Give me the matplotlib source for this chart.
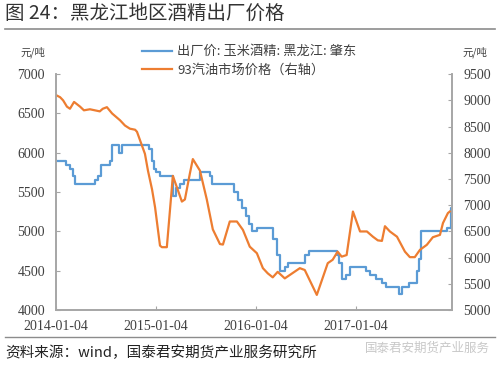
import numpy as np
import pandas as pd
import matplotlib
matplotlib.use("Agg")
import matplotlib.pyplot as plt

plt.rcParams['font.family'] = ['Noto Sans CJK SC', 'DejaVu Sans']

# 出厂价: 玉米酒精: 黑龙江: 肇东 (left axis, step changes)
alc_dates = ['2014-01-04', '2014-02-08', '2014-02-24', '2014-03-07', '2014-03-14',
             '2014-05-26', '2014-06-06', '2014-06-17', '2014-07-20', '2014-07-28',
             '2014-08-22', '2014-09-02', '2014-12-10', '2014-12-21', '2014-12-28',
             '2015-01-04', '2015-01-19', '2015-03-07', '2015-03-18', '2015-04-02',
             '2015-04-16', '2015-06-14', '2015-07-20', '2015-07-28', '2015-10-16',
             '2015-10-31', '2015-11-14', '2015-11-29', '2015-12-10', '2015-12-21',
             '2016-01-08', '2016-03-06', '2016-03-21', '2016-04-01', '2016-04-19',
             '2016-04-30', '2016-07-01', '2016-07-15', '2016-10-26', '2016-11-02',
             '2016-11-13', '2016-11-28', '2016-12-12', '2017-02-09', '2017-02-24',
             '2017-03-18', '2017-04-09', '2017-04-24', '2017-06-10', '2017-06-21',
             '2017-07-17', '2017-08-15', '2017-08-22', '2017-08-29', '2017-12-02',
             '2017-12-17', '2017-12-21']
alc_price = [5900, 5850, 5800, 5700, 5600,
             5650, 5700, 5850, 5900, 6100,
             6000, 6100, 6050, 5900, 5800,
             5750, 5700, 5450, 5550, 5600,
             5650, 5750, 5700, 5600, 5500,
             5400, 5300, 5200, 5100, 5000,
             5050, 4900, 4700, 4500, 4550,
             4600, 4700, 4750, 4700, 4600,
             4400, 4450, 4550, 4500, 4450,
             4400, 4350, 4300, 4200, 4300,
             4350, 4500, 4650, 5000, 5050,
             5300, 5300]

# 93汽油市场价格 (right axis)
gas_dates = ['2014-01-04', '2014-01-19', '2014-01-30', '2014-02-13', '2014-02-24',
             '2014-03-11', '2014-04-02', '2014-04-16', '2014-05-08', '2014-05-26',
             '2014-06-13', '2014-06-24', '2014-07-09', '2014-07-28', '2014-08-26',
             '2014-09-13', '2014-10-01', '2014-10-20', '2014-10-27', '2014-11-07',
             '2014-11-25', '2014-12-06', '2014-12-21', '2015-01-01', '2015-01-19',
             '2015-01-26', '2015-02-13', '2015-03-07', '2015-04-09', '2015-04-20',
             '2015-05-08', '2015-05-19', '2015-06-14', '2015-07-09', '2015-07-31',
             '2015-08-26', '2015-09-06', '2015-10-01', '2015-10-27', '2015-11-18',
             '2015-12-13', '2016-01-08', '2016-01-30', '2016-02-17', '2016-03-06',
             '2016-03-24', '2016-04-19', '2016-06-13', '2016-07-01', '2016-08-14',
             '2016-09-23', '2016-10-11', '2016-10-29', '2016-11-13', '2016-12-01',
             '2016-12-24', '2017-01-19', '2017-02-13', '2017-03-07', '2017-03-25',
             '2017-04-09', '2017-04-20', '2017-05-08', '2017-06-03', '2017-07-02',
             '2017-07-20', '2017-08-07', '2017-08-26', '2017-09-20', '2017-10-12',
             '2017-11-07', '2017-11-18', '2017-12-06', '2017-12-13']
gas_price = [9100, 9060, 9000, 8880, 8840,
             8970, 8880, 8810, 8830, 8810,
             8790, 8840, 8870, 8750, 8620,
             8520, 8460, 8440, 8400, 8240,
             7980, 7660, 7300, 6960, 6230,
             6200, 6200, 7560, 7070, 7110,
             7600, 7880, 7660, 7110, 6540,
             6260, 6250, 6690, 6690, 6530,
             6210, 6085, 5800, 5700, 5625,
             5730, 5605, 5800, 5765, 5290,
             5895, 5960, 6115, 6020, 6050,
             6880, 6500, 6500, 6400, 6330,
             6320, 6600, 6500, 6400, 6115,
             6010, 6010, 6150, 6245, 6390,
             6435, 6660, 6850, 6880]

tick_dates = ['2014-01-04', '2015-01-04', '2016-01-04', '2017-01-04']

blue = '#5B9BD5'
orange = '#ED7D31'
grey = '#A6A6A6'
txt = '#404040'

fig = plt.figure(figsize=(5, 3.67), dpi=100)
ax = fig.add_axes([0.112, 0.155, 0.792, 0.643])
ax2 = ax.twinx()

l1, = ax.plot(pd.to_datetime(alc_dates), alc_price, color=blue, lw=1.6,
              drawstyle='steps-post', label='出厂价: 玉米酒精: 黑龙江: 肇东')
l2, = ax2.plot(pd.to_datetime(gas_dates), gas_price, color=orange, lw=1.6,
               label='93汽油市场价格（右轴）')

ax.set_xlim(pd.Timestamp('2014-01-04'), pd.Timestamp('2017-12-21'))
ax.set_ylim(4000, 7000)
ax2.set_ylim(5000, 9500)
ax.set_yticks(np.arange(4000, 7001, 500))
ax2.set_yticks(np.arange(5000, 9501, 500))
ax.set_xticks(pd.to_datetime(tick_dates))
ax.set_xticklabels(tick_dates)

for a in (ax, ax2):
    for s in a.spines.values():
        s.set_color(grey)
        s.set_linewidth(1.2)
    a.spines['top'].set_visible(False)
    a.tick_params(direction='in', length=3, color=grey, labelcolor=txt, labelsize=10)
    for lab in a.get_yticklabels() + a.get_xticklabels():
        lab.set_fontfamily('Liberation Serif')
ax.tick_params(axis='y', pad=8)
ax2.tick_params(axis='y', pad=8)
ax.tick_params(axis='x', pad=7)

fig.text(0.04, 0.858, '元/吨', fontsize=7.5, color=txt, va='center')
fig.text(0.924, 0.858, '元/吨', fontsize=7.5, color=txt, va='center')

fig.legend(handles=[l1, l2], loc='upper left', bbox_to_anchor=(0.27, 0.895),
           frameon=False, fontsize=9.5, handlelength=2.3, handletextpad=0.4,
           labelspacing=0.45, borderpad=0, labelcolor=txt)

fig.text(0.01, 0.963, '图 24：黑龙江地区酒精出厂价格', fontsize=14, color='#333333',
         va='center')
fig.add_artist(plt.Line2D([0.01, 0.99], [0.921, 0.921], color='#8C8C8C', lw=1.2))
fig.add_artist(plt.Line2D([0.01, 0.99], [0.082, 0.082], color='#8C8C8C', lw=1.0))
fig.text(0.01, 0.04, '资料来源：wind，国泰君安期货产业服务研究所', fontsize=10.5,
         color='#222222', va='center')
fig.text(0.73, 0.052, '国泰君安期货产业服务', fontsize=9, color='#C8C8C8', va='center')

fig.savefig('out.png', dpi=100)
